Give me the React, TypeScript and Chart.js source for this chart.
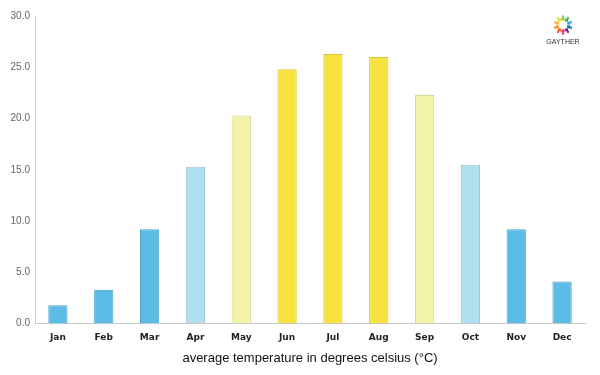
import React, { useEffect, useRef } from "react";
import { Chart, registerables } from "chart.js";

Chart.register(...registerables);

const months = ["Jan", "Feb", "Mar", "Apr", "May", "Jun", "Jul", "Aug", "Sep", "Oct", "Nov", "Dec"];
const temps = [1.8, 3.3, 9.2, 15.3, 20.3, 24.8, 26.3, 26.0, 22.3, 15.5, 9.2, 4.1];
const fills = ["#5bbde6", "#5bbde6", "#5bbde6", "#b0dff0", "#f3f3a8", "#f8e23f", "#f8e23f", "#f8e23f", "#f3f3a8", "#b0dff0", "#5bbde6", "#5bbde6"];
const borders = ["#4a9fc4", "#4a9fc4", "#4a9fc4", "#9cc3d2", "#d6d696", "#d8c53a", "#d8c53a", "#d8c53a", "#d6d696", "#9cc3d2", "#4a9fc4", "#4a9fc4"];
const axisTitle = "average temperature in degrees celsius (°C)";
const logoColors = ["#8cc63f", "#39b54a", "#29abe2", "#0071bc", "#662d91", "#ed1e79", "#f15a24", "#f7931e", "#fbb03b", "#d9e021"];

const logoPlugin = {
  id: "logo",
  afterDraw(chart: any) {
    const ctx = chart.ctx;
    const cx = 563, cy = 25, r = 6;
    ctx.save();
    logoColors.forEach((c, i) => {
      const a = (i / logoColors.length) * Math.PI * 2 - Math.PI / 2;
      ctx.fillStyle = c;
      const x = cx + Math.cos(a) * r, y = cy + Math.sin(a) * r;
      ctx.fillRect(x - 1.5, y - 1.5, 3, 3);
      ctx.fillRect(x + Math.cos(a) * 2.5 - 1, y + Math.sin(a) * 2.5 - 1, 2, 2);
    });
    ctx.fillStyle = "#333";
    ctx.font = "7px 'Liberation Sans', Arial, sans-serif";
    ctx.textAlign = "center";
    ctx.textBaseline = "middle";
    ctx.fillText("GAYTHER", cx, 42);
    ctx.restore();
  },
};

export default function App() {
  const ref = useRef<HTMLCanvasElement>(null);
  useEffect(() => {
    document.body.style.margin = "0";
    const chart = new Chart(ref.current!, {
      type: "bar",
      data: {
        labels: months,
        datasets: [
          {
            data: temps,
            backgroundColor: fills,
            borderColor: borders,
            borderWidth: 1,
            barPercentage: 0.42,
            categoryPercentage: 1,
          },
        ],
      },
      options: {
        responsive: false,
        animation: false,
        layout: { padding: { top: 16, right: 15, left: 0, bottom: 3 } },
        plugins: { legend: { display: false }, tooltip: { enabled: false } },
        scales: {
          x: {
            grid: { display: false, drawTicks: false },
            border: { color: "#c8c8c8", width: 1 },
            ticks: {
              color: "#222",
              font: { family: "'DejaVu Sans', sans-serif", size: 9, weight: "bold" },
              padding: 9,
            },
            title: {
              display: true,
              text: axisTitle,
              color: "#111",
              font: { family: "'Liberation Sans', Arial, sans-serif", size: 13 },
              padding: { top: -2, bottom: 6 },
            },
          },
          y: {
            min: 0,
            max: 30,
            grid: { display: false, drawTicks: false },
            border: { color: "#c8c8c8", width: 1 },
            afterFit(scale: any) {
              scale.width = 35;
            },
            ticks: {
              stepSize: 5,
              color: "#666",
              font: { family: "'Liberation Sans', Arial, sans-serif", size: 10 },
              padding: 5,
              callback: (v: any) => Number(v).toFixed(1),
            },
          },
        },
      },
      plugins: [logoPlugin],
    });
    return () => chart.destroy();
  }, []);
  return <canvas ref={ref} width={600} height={375} style={{ display: "block" }} />;
}
